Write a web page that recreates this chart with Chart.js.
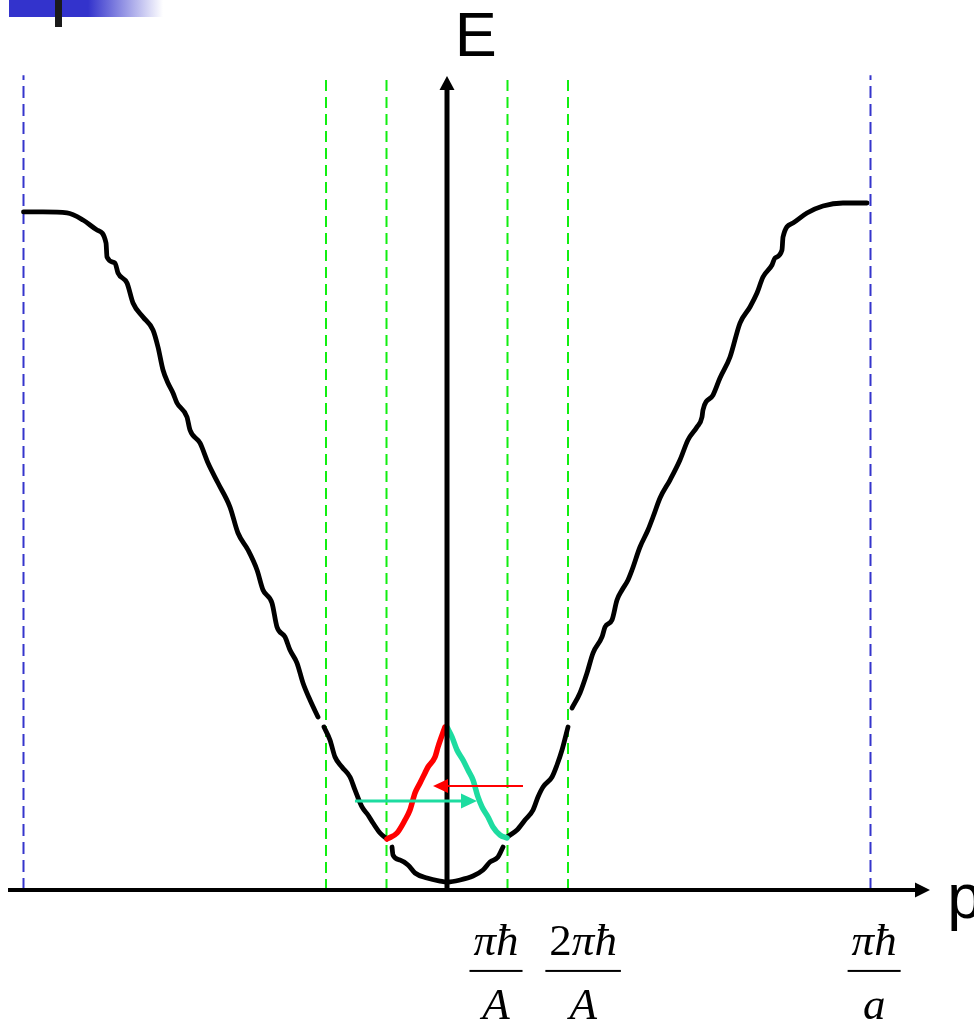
<!DOCTYPE html>
<html>
<head>
<meta charset="utf-8">
<script src="https://cdn.jsdelivr.net/npm/chart.js@4/dist/chart.umd.min.js"></script>
<style>
html,body{margin:0;padding:0;background:#fff;}
#wrap{width:974px;height:1019px;position:relative;}
</style>
</head>
<body>
<div id="wrap"><canvas id="c" width="974" height="1019"></canvas></div>
<script>
// momentum p in units of πħ/A, energy E in arbitrary units (band top ≈ 10)
const greenLinesP = [-2, -1, 1, 2];
const blueLinesP = [-7, 7];
const dashTopE = 11.98;

const tickLabelP = [0.81, 2.25, 7.06];
const tickCoef = ['', '2', ''];
const tickNum = ['πħ', 'πħ', 'πħ'];
const tickDen = ['A', 'A', 'a'];

// black band, outer left part
const outerLeftP = [-7.0,-6.678,-6.281,-6.017,-5.785,-5.636,-5.62,-5.488,-5.438,-5.289,-5.19,-5.025,-4.86,-4.777,-4.694,-4.612,-4.529,-4.463,-4.298,-4.248,-4.083,-3.95,-3.785,-3.587,-3.455,-3.289,-3.14,-3.041,-2.893,-2.81,-2.678,-2.595,-2.479,-2.38,-2.264,-2.132];
const outerLeftE = [9.971,9.971,9.956,9.853,9.706,9.515,9.309,9.221,9.074,8.926,8.632,8.426,8.235,7.985,7.647,7.456,7.309,7.162,6.956,6.765,6.574,6.279,5.985,5.632,5.25,5.0,4.706,4.412,4.221,3.868,3.721,3.529,3.338,3.044,2.794,2.544];

// black band, inner left part
const innerLeftP = [-2.033,-1.934,-1.851,-1.736,-1.603,-1.521,-1.405,-1.306,-1.223,-1.107,-0.992];
const innerLeftE = [2.397,2.206,1.956,1.809,1.662,1.471,1.221,1.103,0.985,0.838,0.75];

// red folded part
const redP = [-0.992,-0.826,-0.694,-0.612,-0.529,-0.446,-0.364,-0.314,-0.198,-0.149,-0.033];
const redE = [0.75,0.838,1.029,1.176,1.426,1.574,1.721,1.809,1.956,2.103,2.397];

// cyan folded part
const cyanP = [0,0.083,0.165,0.264,0.347,0.43,0.512,0.579,0.678,0.76,0.876,0.992];
const cyanE = [2.397,2.25,2.059,1.912,1.765,1.618,1.368,1.221,1.074,0.926,0.809,0.765];

// black band, inner right part
const innerRightP = [0.992,1.157,1.289,1.421,1.504,1.587,1.736,1.818,1.901,2.0];
const innerRightE = [0.779,0.882,1.029,1.176,1.368,1.515,1.662,1.838,2.059,2.397];

// black band, outer right part
const outerRightP = [2.066,2.198,2.314,2.413,2.562,2.612,2.727,2.81,2.893,2.992,3.058,3.19,3.322,3.405,3.521,3.686,3.851,3.983,4.132,4.215,4.231,4.397,4.512,4.678,4.843,5.008,5.124,5.223,5.372,5.421,5.537,5.554,5.719,5.95,6.215,6.545,6.942];
const outerRightE = [2.676,2.897,3.191,3.485,3.721,3.868,3.971,4.265,4.412,4.559,4.706,5.044,5.294,5.485,5.765,6.029,6.324,6.618,6.809,6.956,7.059,7.279,7.529,7.838,8.338,8.574,8.779,9.015,9.191,9.294,9.412,9.603,9.809,9.956,10.059,10.103,10.103];

// lowest bowl
const bowlP = [-0.909,-0.893,-0.777,-0.645,-0.529,-0.331,-0.116,0.017,0.215,0.43,0.595,0.711,0.843,0.926];
const bowlE = [0.632,0.515,0.441,0.368,0.25,0.176,0.132,0.118,0.147,0.206,0.294,0.412,0.485,0.632];

// scattering arrows (start, arrowhead base)
const redArrowP = [1.256, 0.017];
const redArrowE = [1.529, 1.529];
const cyanArrowP = [-1.521, 0.231];
const cyanArrowE = [1.309, 1.309];

// axes (start, arrowhead base)
const pAxisP = [-7.256, 7.736];
const pAxisE = [0, 0];
const eAxisP = [0, 0];
const eAxisE = [-0.03, 11.765];

const pts = (xs, ys) => xs.map((x, i) => ({x: x, y: ys[i]}));

const datasets = [];
function line(xs, ys, color, width, extra) {
  datasets.push(Object.assign({
    data: pts(xs, ys), showLine: true, borderColor: color, backgroundColor: color,
    borderWidth: width, pointRadius: 0, pointHoverRadius: 0, fill: false,
    cubicInterpolationMode: 'monotone', borderCapStyle: 'round', borderJoinStyle: 'round'
  }, extra || {}));
}
greenLinesP.forEach(p => line([p, p], [0, dashTopE], '#11ee11', 2, {borderDash: [11, 6], borderCapStyle: 'butt', order: 10, cubicInterpolationMode: 'default', tension: 0}));
blueLinesP.forEach(p => line([p, p], [0, dashTopE], '#3535cc', 2, {borderDash: [12, 6], borderCapStyle: 'butt', order: 10, cubicInterpolationMode: 'default', tension: 0}));
line(outerLeftP, outerLeftE, '#000', 4.8, {order: 5});
line(innerLeftP, innerLeftE, '#000', 4.8, {order: 5});
line(innerRightP, innerRightE, '#000', 4.8, {order: 5});
line(outerRightP, outerRightE, '#000', 4.8, {order: 5});
line(bowlP, bowlE, '#000', 4.8, {order: 5});
line(pAxisP, pAxisE, '#000', 4, {order: 3, cubicInterpolationMode: 'default', tension: 0, borderCapStyle: 'butt', arrowHead: {len: 15, half: 7.5}});
line(eAxisP, eAxisE, '#000', 5, {order: 3, cubicInterpolationMode: 'default', tension: 0, borderCapStyle: 'butt', arrowHead: {len: 14, half: 7.5}});
line(redP, redE, '#ff0000', 5.5, {order: 4});
line(cyanP, cyanE, '#1ddca0', 5.5, {order: 4});
line(redArrowP, redArrowE, '#ff0000', 2, {order: 2, cubicInterpolationMode: 'default', tension: 0, borderCapStyle: 'butt', arrowHead: {len: 15, half: 7}});
line(cyanArrowP, cyanArrowE, '#1ddca0', 3, {order: 2, cubicInterpolationMode: 'default', tension: 0, borderCapStyle: 'butt', arrowHead: {len: 16, half: 7.5}});

const decoPlugin = {
  id: 'deco',
  beforeDraw(chart) {
    const ctx = chart.ctx;
    ctx.save();
    ctx.fillStyle = '#fff';
    ctx.fillRect(0, 0, chart.width, chart.height);
    const g = ctx.createLinearGradient(88, 0, 163, 0);
    g.addColorStop(0, '#3333cc');
    g.addColorStop(1, 'rgba(255,255,255,1)');
    ctx.fillStyle = '#3333cc';
    ctx.fillRect(9, 0, 80, 17);
    ctx.fillStyle = g;
    ctx.fillRect(88, 0, 75, 17);
    ctx.fillStyle = '#1a1a1a';
    ctx.fillRect(55, 0, 7, 27);
    ctx.restore();
  },
  afterDatasetsDraw(chart) {
    const ctx = chart.ctx;
    const xs = chart.scales.x, ys = chart.scales.y;
    ctx.save();
    chart.data.datasets.forEach(ds => {
      if (!ds.arrowHead) return;
      const n = ds.data.length;
      const a = ds.data[n - 2], b = ds.data[n - 1];
      const ax = xs.getPixelForValue(a.x), ay = ys.getPixelForValue(a.y);
      const bx = xs.getPixelForValue(b.x), by = ys.getPixelForValue(b.y);
      const dx = bx - ax, dy = by - ay, L = Math.hypot(dx, dy);
      const ux = dx / L, uy = dy / L;
      const tx = bx + ux * ds.arrowHead.len, ty = by + uy * ds.arrowHead.len;
      const h = ds.arrowHead.half;
      ctx.fillStyle = ds.borderColor;
      ctx.beginPath();
      ctx.moveTo(tx, ty);
      ctx.lineTo(bx - uy * h, by + ux * h);
      ctx.lineTo(bx + uy * h, by - ux * h);
      ctx.closePath();
      ctx.fill();
    });
    // axis titles
    ctx.fillStyle = '#000';
    ctx.textBaseline = 'alphabetic';
    ctx.textAlign = 'left';
    ctx.font = '63px "Liberation Sans", Arial, sans-serif';
    ctx.fillText('E', xs.getPixelForValue(0.13), ys.getPixelForValue(12.27));
    ctx.fillText('p', xs.getPixelForValue(8.27), ys.getPixelForValue(-0.41));
    // tick labels as fractions
    const numY = ys.getPixelForValue(-0.95);
    const barY = ys.getPixelForValue(-1.19);
    const denY = ys.getPixelForValue(-1.9);
    const fs = 45;
    tickLabelP.forEach((p, i) => {
      const cx = xs.getPixelForValue(p);
      ctx.font = fs + 'px "Liberation Serif", "Times New Roman", serif';
      const wc = tickCoef[i] ? ctx.measureText(tickCoef[i]).width : 0;
      ctx.font = 'italic ' + fs + 'px "Liberation Serif", "Times New Roman", serif';
      const wn = ctx.measureText(tickNum[i]).width;
      const total = wc + wn;
      let x0 = cx - total / 2;
      if (tickCoef[i]) {
        ctx.font = fs + 'px "Liberation Serif", "Times New Roman", serif';
        ctx.fillText(tickCoef[i], x0, numY);
      }
      ctx.font = 'italic ' + fs + 'px "Liberation Serif", "Times New Roman", serif';
      ctx.fillText(tickNum[i], x0 + wc, numY);
      const bw = total + 8;
      ctx.fillRect(cx - bw / 2, barY - 1, bw, 2);
      ctx.textAlign = 'center';
      ctx.fillText(tickDen[i], cx, denY);
      ctx.textAlign = 'left';
    });
    ctx.restore();
  }
};

new Chart(document.getElementById('c'), {
  type: 'scatter',
  data: {datasets: datasets},
  options: {
    responsive: false,
    animation: false,
    devicePixelRatio: 1,
    layout: {padding: 0},
    plugins: {legend: {display: false}, tooltip: {enabled: false}, title: {display: false}},
    events: [],
    scales: {
      x: {type: 'linear', display: false, min: -447 / 60.5, max: 527 / 60.5},
      y: {type: 'linear', display: false, min: -129 / 68, max: 890 / 68}
    }
  },
  plugins: [decoPlugin]
});
</script>
</body>
</html>
